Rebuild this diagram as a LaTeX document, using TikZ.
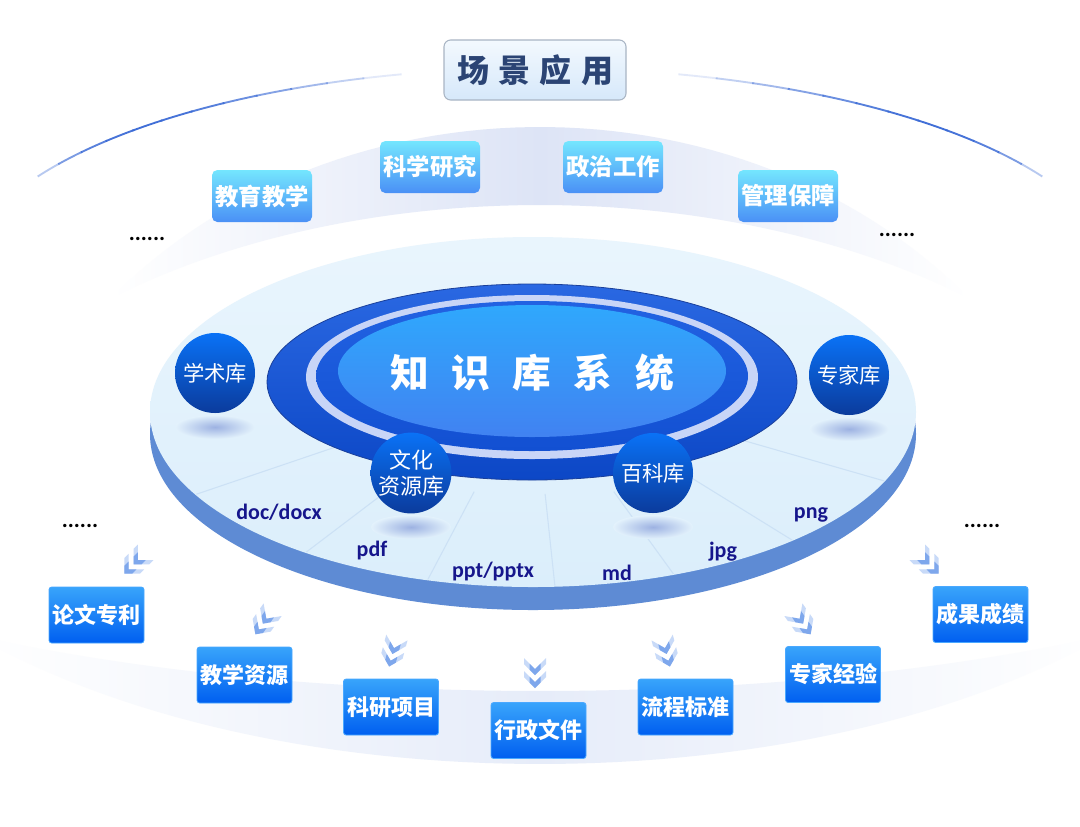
\documentclass[tikz,border=0pt]{standalone}
\usepackage{fontspec}
\setmainfont{Noto Sans CJK SC}
\newfontfamily\lat{Carlito}
\usetikzlibrary{shapes.geometric}
\definecolor{bandc}{HTML}{DDE4F6}
\definecolor{bandd}{HTML}{E6ECF9}
\definecolor{arcc}{HTML}{3A6AD6}
\definecolor{faceT}{HTML}{E9F5FD}
\definecolor{faceB}{HTML}{DBEEFB}
\definecolor{sidec}{HTML}{5E8BD4}
\definecolor{spokec}{HTML}{CCE1F5}
\definecolor{ringT}{HTML}{2A68E2}
\definecolor{ringB}{HTML}{0C47C6}
\definecolor{ringD}{HTML}{1A3F9A}
\definecolor{paleR}{HTML}{C8D5F7}
\definecolor{ring2T}{HTML}{2262E2}
\definecolor{ring2B}{HTML}{1250D2}
\definecolor{coreT}{HTML}{2FA8FD}
\definecolor{coreB}{HTML}{4182F1}
\definecolor{sphT}{HTML}{0A72F6}
\definecolor{sphB}{HTML}{0B3B9C}
\definecolor{shadC}{HTML}{9DB2E2}
\definecolor{shadO}{HTML}{E3F2FC}
\definecolor{tbT}{HTML}{74E6FE}
\definecolor{tbB}{HTML}{4A90F6}
\definecolor{bbT}{HTML}{38A4FB}
\definecolor{bbB}{HTML}{005FF0}
\definecolor{bbD}{HTML}{4AA8FF}
\definecolor{ttlT}{HTML}{F3F9FE}
\definecolor{ttlB}{HTML}{D6E8FA}
\definecolor{ttlD}{HTML}{A9B5C4}
\definecolor{ttlTxt}{HTML}{2B4474}
\definecolor{fmtc}{HTML}{16168C}
\definecolor{chevLc}{HTML}{C8DAF8}
\definecolor{chevDc}{HTML}{7EA7EC}
\begin{document}
\begin{tikzpicture}[x=0.75pt,y=-0.75pt,
  topbox/.style={rounded corners=4pt, minimum width=75pt, minimum height=39pt,
    top color=tbT, bottom color=tbB, text=white, inner sep=0pt,
    font=\fontsize{17.5}{20}\selectfont\bfseries},
  botbox/.style={rounded corners=2pt, minimum width=71.25pt, minimum height=42pt,
    top color=bbT, bottom color=bbB, draw=bbD, line width=0.6pt, text=white, inner sep=0pt,
    font=\fontsize{16.5}{19}\selectfont\bfseries},
  sphere/.style={circle, minimum size=60pt, inner sep=0pt, top color=sphT, bottom color=sphB,
    text=white, align=center, font=\fontsize{16}{19}\selectfont},
  fmt/.style={text=fmtc, anchor=base, inner sep=0pt, font=\lat\bfseries\fontsize{16.5}{18}\selectfont},
  dotsty/.style={anchor=base, inner sep=0pt, font=\lat\bfseries\fontsize{17}{17}\selectfont},
  arcline/.style={draw=arcc, line width=1.4pt},
  spoke/.style={draw=spokec, line width=0.8pt},
  chev/.pic={
    \fill[chevLc] (15,0) -- (4,-11) -- (-2,-11) -- (9,0) -- (-2,11) -- (4,11) -- cycle;
    \fill[chevDc] (15,0) -- (9.5,-5.5) -- (3.5,-5.5) -- (9,0) -- (3.5,5.5) -- (9.5,5.5) -- cycle;
    \fill[chevLc] (2,0) -- (-9,-11) -- (-15,-11) -- (-4,0) -- (-15,11) -- (-9,11) -- cycle;
    \fill[chevDc] (2,0) -- (-3.5,-5.5) -- (-9.5,-5.5) -- (-4,0) -- (-9.5,5.5) -- (-3.5,5.5) -- cycle;
  }
]
\useasboundingbox (0,0) rectangle (1080,826);
\fill[white] (0,0) rectangle (1080,826);

% top light band (crescent)
\shade[left color=white, right color=white, middle color=bandc]
  plot[domain=140.4:39.6, samples=60] ({540+557*cos(\x)},{600-473*sin(\x)})
  -- plot[domain=49.8:130.2, samples=60] ({540+665*cos(\x)},{600-395*sin(\x)}) -- cycle;

% bottom light band (crescent)
\shade[left color=white, right color=white, middle color=bandd]
  plot[domain=40.4:139.6, samples=60] ({540+741*cos(\x)},{400+364*sin(\x)})
  -- plot[domain=125.9:54.1, samples=60] ({540+963*cos(\x)},{400+291*sin(\x)}) -- cycle;

% thin top arcs
\foreach \i in {0,...,11} {
  \pgfmathsetmacro\op{0.06+0.9*sin(180*((\i+0.5)/12)^0.7)}
  \pgfmathsetmacro\ta{150-\i*46/12}
  \pgfmathsetmacro\tb{\ta-46/12-0.2}
  \draw[arcline, opacity=\op] plot[domain=\tb:\ta, samples=6] ({540+580*cos(\x)},{285-217*sin(\x)});
  \pgfmathsetmacro\tc{30+\i*46/12}
  \pgfmathsetmacro\td{\tc+46/12+0.2}
  \draw[arcline, opacity=\op] plot[domain=\tc:\td, samples=6] ({540+580*cos(\x)},{285-217*sin(\x)});
}

% title
\node[draw=ttlD, line width=0.8pt, rounded corners=5pt, top color=ttlT, bottom color=ttlB,
  minimum width=136.5pt, minimum height=45pt, inner sep=0pt, text=ttlTxt,
  font=\fontsize{24}{28}\selectfont\bfseries] (title) at (535,70)
  {场\hspace{7pt}景\hspace{7pt}应\hspace{7pt}用};

% top scene boxes
\node[topbox] (s1) at (262,196) {教育教学};
\node[topbox] (s2) at (430,167) {科学研究};
\node[topbox] (s3) at (613,167) {政治工作};
\node[topbox] (s4) at (788,196) {管理保障};

\node[dotsty] (d1) at (147,240) {......};
\node[dotsty] (d2) at (897,236) {......};
\node[dotsty] (d3) at (80,527) {......};
\node[dotsty] (d4) at (982,527) {......};

% platform
\fill[sidec] (533,434) ellipse [x radius=383, y radius=176];
\shade[top color=faceT, bottom color=faceB] (533,412) ellipse [x radius=383, y radius=175];
\begin{scope}
  \clip (533,412) ellipse [x radius=382, y radius=174];
  \foreach \dx/\dy in {-333/113, -224/170, -107/203, 22/207, 147/203, 259/160, 348/100}
    \draw[spoke] ({533+0.55*\dx},{380+0.55*\dy}) -- ({533+1.3*\dx},{380+1.3*\dy});
\end{scope}

% sphere shadows
\foreach \sx/\sy in {215/427, 411/527, 653/527, 849/429}
  \shade[inner color=shadC, outer color=shadO] (\sx,\sy) ellipse [x radius=40, y radius=12];

% central ellipses
\shade[top color=ringT, bottom color=ringB] (532,382) ellipse [x radius=265, y radius=98];
\draw[ringD, line width=0.6pt] (532,382) ellipse [x radius=265, y radius=98];
\fill[paleR] (532,377) ellipse [x radius=226, y radius=82];
\shade[top color=ring2T, bottom color=ring2B] (532,376) ellipse [x radius=216, y radius=75];
\shade[top color=coreT, bottom color=coreB] (532,371) ellipse [x radius=194, y radius=66];

\node[text=white, inner sep=0pt, font=\fontsize{29}{32}\selectfont\bfseries] (core) at (532,373)
  {知\hspace{17pt}识\hspace{17pt}库\hspace{17pt}系\hspace{17pt}统};

% spheres
\node[sphere] (k1) at (215,373) {学术库};
\node[sphere] (k2) at (849,375) {专家库};
\node[sphere, font=\fontsize{16.5}{20}\selectfont] (k3) at (411,473) {文化\\资源库};
\node[sphere] (k4) at (653,473) {百科库};

% formats
\node[fmt] (f1) at (279,519) {doc/docx};
\node[fmt] (f2) at (372,556) {pdf};
\node[fmt] (f3) at (493,577) {ppt/pptx};
\node[fmt] (f4) at (617,580) {md};
\node[fmt] (f5) at (723,557) {jpg};
\node[fmt] (f6) at (811,518) {png};

% chevrons
\pic[rotate=225] (c1) at (135,563) {chev};
\pic[rotate=235] (c2) at (264,622) {chev};
\pic[rotate=255] (c3) at (393,652) {chev};
\pic[rotate=270] (c4) at (535,673) {chev};
\pic[rotate=285] (c5) at (666,652) {chev};
\pic[rotate=305] (c6) at (802,622) {chev};
\pic[rotate=315] (c7) at (928,563) {chev};

% bottom boxes
\node[botbox] (b1) at (96.5,615) {论文专利};
\node[botbox] (b2) at (244.5,675) {教学资源};
\node[botbox] (b3) at (391,707) {科研项目};
\node[botbox] (b4) at (538.5,730.5) {行政文件};
\node[botbox] (b5) at (685.5,707) {流程标准};
\node[botbox] (b6) at (833,674.5) {专家经验};
\node[botbox] (b7) at (980.5,614.5) {成果成绩};
\end{tikzpicture}
\end{document}
